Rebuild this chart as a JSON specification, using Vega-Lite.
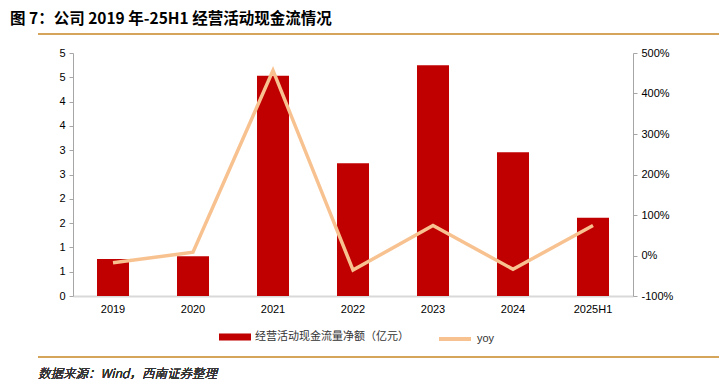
{
  "$schema": "https://vega.github.io/schema/vega-lite/v6.json",
  "width": 560,
  "height": 243,
  "autosize": "none",
  "padding": {"left": 73, "top": 53, "right": 86, "bottom": 94},
  "background": "white",
  "title": {
    "text": "图 7：公司 2019 年-25H1 经营活动现金流情况",
    "anchor": "start",
    "frame": "group",
    "dx": -63,
    "offset": 6,
    "font": "Noto Sans CJK SC",
    "fontSize": 15.5,
    "fontWeight": "bold",
    "color": "#000000"
  },
  "config": {
    "view": {"stroke": null},
    "axis": {"grid": false, "labelFont": "Liberation Sans", "labelFontSize": 11, "labelColor": "#000000", "titleFontSize": 0}
  },
  "data": {
    "values": [
      {"year": "2019", "cf": 0.76, "yoy": -18},
      {"year": "2020", "cf": 0.82, "yoy": 8},
      {"year": "2021", "cf": 4.53, "yoy": 457},
      {"year": "2022", "cf": 2.73, "yoy": -36},
      {"year": "2023", "cf": 4.75, "yoy": 74},
      {"year": "2024", "cf": 2.96, "yoy": -34},
      {"year": "2025H1", "cf": 1.61, "yoy": 74}
    ]
  },
  "encoding": {
    "x": {
      "field": "year",
      "type": "ordinal",
      "sort": null,
      "title": null,
      "scale": {"paddingInner": 0.6, "paddingOuter": 0.3},
      "axis": {"labelAngle": 0, "ticks": false, "domainColor": "#d9d9d9", "domainWidth": 2, "labelPadding": 7}
    }
  },
  "layer": [
    {
      "mark": {"type": "bar", "color": "#C00000"},
      "encoding": {
        "y": {
          "field": "cf",
          "type": "quantitative",
          "title": null,
          "scale": {"domain": [0, 5], "nice": false},
          "axis": {"values": [0, 0.5, 1, 1.5, 2, 2.5, 3, 3.5, 4, 4.5, 5], "labelExpr": "round(datum.value)", "domainColor": "#a6a6a6", "tickColor": "#a6a6a6", "tickSize": 4, "labelPadding": 4}
        },
        "fill": {
          "datum": "经营活动现金流量净额（亿元）",
          "type": "nominal",
          "scale": {"range": ["#C00000"]},
          "legend": {
            "title": null,
            "orient": "none",
            "legendX": 146,
            "legendY": 268,
            "symbolType": "M-1,-0.22H1V0.22H-1Z",
            "symbolSize": 1024,
            "symbolStrokeWidth": 0,
            "labelFont": "Noto Sans CJK SC",
            "labelFontSize": 11,
            "labelColor": "#333333",
            "labelOffset": 4
          }
        }
      }
    },
    {
      "mark": {"type": "line", "strokeWidth": 3.5, "strokeJoin": "miter"},
      "encoding": {
        "y": {
          "field": "yoy",
          "type": "quantitative",
          "title": null,
          "scale": {"domain": [-100, 500], "nice": false},
          "axis": {"orient": "right", "values": [-100, 0, 100, 200, 300, 400, 500], "labelExpr": "datum.value + '%'", "domainColor": "#a6a6a6", "tickColor": "#a6a6a6", "tickSize": 4, "labelPadding": 4}
        },
        "stroke": {
          "datum": "yoy",
          "type": "nominal",
          "scale": {"range": ["#F8C290"]},
          "legend": {
            "title": null,
            "orient": "none",
            "legendX": 364,
            "legendY": 268,
            "symbolType": "M-1,0H1",
            "symbolSize": 1024,
            "symbolStrokeWidth": 4,
            "labelFont": "Liberation Sans",
            "labelFontSize": 11,
            "labelColor": "#333333",
            "labelOffset": 4
          }
        }
      }
    },
    {
      "mark": {"type": "rule", "color": "#D4A55A", "strokeWidth": 2},
      "encoding": {"x": {"value": -35}, "x2": {"value": 646}, "y": {"value": -19}}
    },
    {
      "mark": {"type": "rule", "color": "#D4A55A", "strokeWidth": 2},
      "encoding": {"x": {"value": -35}, "x2": {"value": 646}, "y": {"value": 304}}
    },
    {
      "mark": {"type": "text", "align": "left", "baseline": "middle", "font": "Noto Sans CJK SC", "fontSize": 12.5, "fontWeight": 300, "fontStyle": "italic", "color": "#333333", "text": "数据来源：Wind，西南证券整理"},
      "encoding": {"x": {"value": -35}, "y": {"value": 321}}
    }
  ],
  "resolve": {"scale": {"y": "independent", "fill": "independent", "stroke": "independent"}}
}
